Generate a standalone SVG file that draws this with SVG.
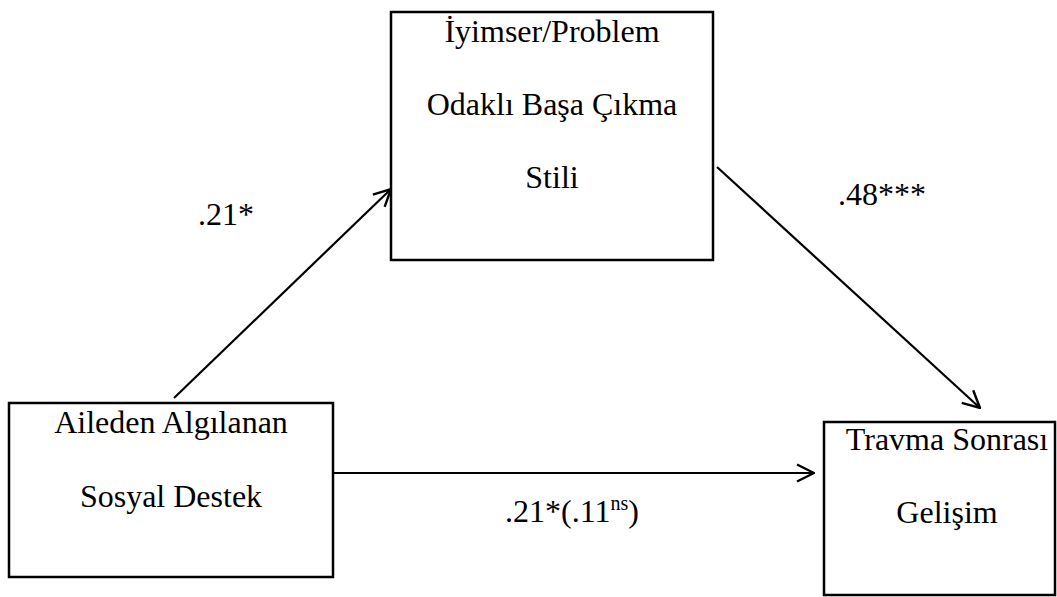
<svg xmlns="http://www.w3.org/2000/svg" width="1057" height="597" viewBox="0 0 1057 597">
  <style>
    .box { fill: #fff; stroke: #000; stroke-width: 2.5; }
    .lbl { font-family: "Liberation Serif", "Times New Roman", serif; font-size: 32px; fill: #000; text-anchor: middle; }
    .coef { font-family: "Liberation Serif", "Times New Roman", serif; font-size: 32px; fill: #000; }
    .edge { stroke: #000; stroke-width: 2.2; fill: none; marker-end: url(#arrow); }
  </style>
  <defs>
    <!-- open V-shaped arrowhead -->
    <marker id="arrow" viewBox="0 0 20 20" refX="19" refY="10" markerWidth="20" markerHeight="20" markerUnits="userSpaceOnUse" orient="auto">
      <path d="M2,1.5 L19,10 L2,18.5" fill="none" stroke="#000" stroke-width="2.4"/>
    </marker>
  </defs>
  <rect width="1057" height="597" fill="#fff"/>

  <g id="connectors">
    <line class="edge" x1="174" y1="398" x2="391" y2="189"/>
    <line class="edge" x1="717" y1="167" x2="980" y2="408"/>
    <line class="edge" x1="334" y1="473" x2="814" y2="473"/>
  </g>

  <g id="node-coping">
    <rect class="box" x="391" y="12" width="322" height="248"/>
    <text class="lbl" x="552" y="42">İyimser/Problem</text>
    <text class="lbl" x="552" y="115">Odaklı Başa Çıkma</text>
    <text class="lbl" x="552" y="188">Stili</text>
  </g>

  <g id="node-support">
    <rect class="box" x="9" y="403" width="324" height="174"/>
    <text class="lbl" x="171" y="433">Aileden Algılanan</text>
    <text class="lbl" x="171" y="507">Sosyal Destek</text>
  </g>

  <g id="node-growth">
    <rect class="box" x="824" y="422" width="231" height="173"/>
    <text class="lbl" x="947" y="450">Travma Sonrası</text>
    <text class="lbl" x="947" y="523">Gelişim</text>
  </g>

  <g id="coefficients">
    <text class="coef" x="198" y="225">.21*</text>
    <text class="coef" x="838" y="205">.48***</text>
    <text class="coef" x="505" y="522">.21*(.11<tspan font-size="20" dy="-12">ns</tspan><tspan dy="12">)</tspan></text>
  </g>
</svg>
